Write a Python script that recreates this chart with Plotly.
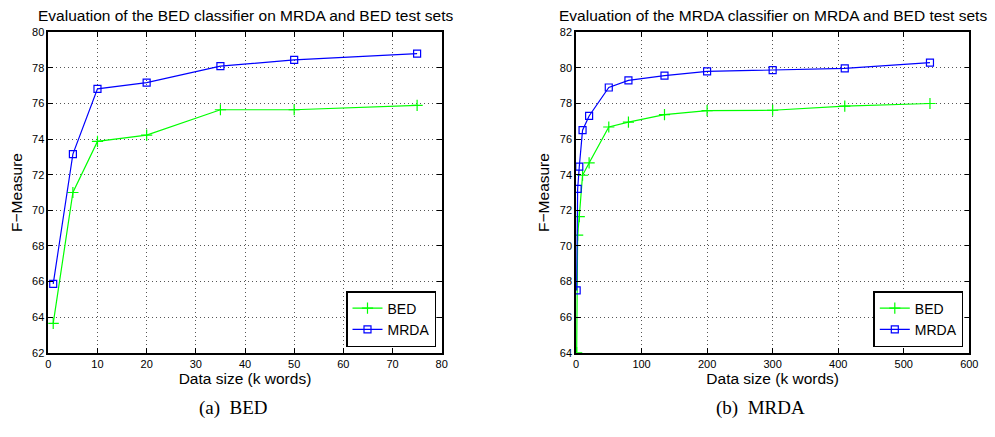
import plotly.graph_objects as go

# Left panel: BED classifier
left_x = [1, 5, 10, 20, 35, 50, 75]
left_bed = [63.65, 71.0, 73.87, 74.22, 75.65, 75.65, 75.9]
left_mrda = [65.87, 73.16, 76.82, 77.17, 78.1, 78.45, 78.8]

# Right panel: MRDA classifier
right_x = [1, 2.5, 5, 10, 20, 50, 80, 135, 200, 300, 410, 540]
right_bed = [64.0, 70.6, 71.65, 73.97, 74.66, 76.68, 76.95, 77.38, 77.6, 77.62, 77.85, 78.0]
right_mrda = [67.5, 73.2, 74.45, 76.5, 77.3, 78.9, 79.3, 79.57, 79.8, 79.87, 79.97, 80.3]

titles = ["Evaluation of the BED classifier on MRDA and BED test sets",
          "Evaluation of the MRDA classifier on MRDA and BED test sets"]
captions = ["(a)\u00a0\u00a0BED", "(b)\u00a0\u00a0MRDA"]
series_names = ["BED", "MRDA"]

GREEN = "#00ff00"
BLUE = "#0000ff"
FONT = "Liberation Sans, Arial, sans-serif"

W, H = 995, 437
def px(v):
    return v / W
def py(v):
    return (H - v) / H

fig = go.Figure()

def add_pair(x, bed, mrda, xa, ya, leg):
    fig.add_trace(go.Scatter(x=x, y=bed, name=series_names[0], mode="lines+markers",
                             line=dict(color=GREEN, width=1.2),
                             marker=dict(symbol="cross-thin-open", size=8, color=GREEN,
                                         line=dict(color=GREEN, width=1.2)),
                             xaxis=xa, yaxis=ya, legend=leg))
    fig.add_trace(go.Scatter(x=x, y=mrda, name=series_names[1], mode="lines+markers",
                             line=dict(color=BLUE, width=1.2),
                             marker=dict(symbol="square-open", size=7, color=BLUE,
                                         line=dict(color=BLUE, width=1.2)),
                             xaxis=xa, yaxis=ya, legend=leg))

add_pair(left_x, left_bed, left_mrda, "x", "y", "legend")
add_pair(right_x, right_bed, right_mrda, "x2", "y2", "legend2")

axis_common = dict(showline=True, linecolor="black", linewidth=1.5, mirror="ticks",
                   ticks="inside", ticklen=5, tickcolor="black", tickwidth=1,
                   showgrid=True, gridcolor="#555", griddash="1px,3px", gridwidth=1,
                   zeroline=False, automargin=False,
                   tickfont=dict(family=FONT, size=11, color="black"))

top, bottom = 32.3, 352.7
ydom = [py(bottom), py(top)]
LABEL = dict(family=FONT, size=15.5, color="black")

legend_common = dict(xanchor="right", yanchor="bottom", bgcolor="white",
                     bordercolor="black", borderwidth=1.5,
                     font=dict(family=FONT, size=14), tracegroupgap=0, itemwidth=30)

fig.update_layout(
    width=W, height=H, margin=dict(l=0, r=0, t=0, b=0, autoexpand=False),
    paper_bgcolor="white", plot_bgcolor="white",
    font=dict(family=FONT, color="black"),
    xaxis=dict(domain=[px(48.3), px(441.7)], range=[0, 80], dtick=10, anchor="y",
               title=dict(text="Data size (k words)", font=LABEL, standoff=4),
               **axis_common),
    yaxis=dict(domain=ydom, range=[62, 80], dtick=2, anchor="x",
               title=dict(text="F\u2212Measure", font=LABEL, standoff=6),
               **axis_common),
    xaxis2=dict(domain=[px(576), px(969.3)], range=[0, 600], dtick=100, anchor="y2",
                title=dict(text="Data size (k words)", font=LABEL, standoff=4),
                **axis_common),
    yaxis2=dict(domain=ydom, range=[64, 82], dtick=2, anchor="x2",
                title=dict(text="F\u2212Measure", font=LABEL, standoff=6),
                **axis_common),
    legend=dict(x=px(436), y=py(347), **legend_common),
    legend2=dict(x=px(963.3), y=py(347), **legend_common),
    showlegend=True,
)

annotations = []
for cx, title in zip([245, 772.6], titles):
    annotations.append(dict(text=title, x=px(cx), y=py(16), xref="paper", yref="paper",
                            showarrow=False, xanchor="center", yanchor="middle",
                            font=dict(family=FONT, size=15.5, color="black")))
for cx, cap in zip([233, 760], captions):
    annotations.append(dict(text=cap, x=px(cx), y=py(408), xref="paper", yref="paper",
                            showarrow=False, xanchor="center", yanchor="middle",
                            font=dict(family="Liberation Serif, Times New Roman, serif",
                                      size=19, color="black")))
fig.update_layout(annotations=annotations)

fig.write_html("out.html", config={"displayModeBar": False},
               post_script="document.body.style.margin='0';document.body.style.overflow='hidden';")
